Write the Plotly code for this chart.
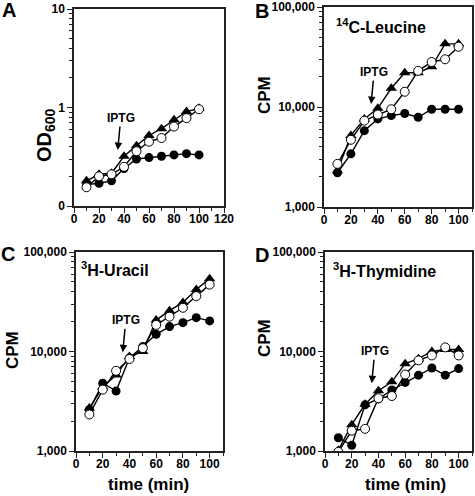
import math
import plotly.graph_objects as go

# ---------------- data ----------------
time_min = [10, 20, 30, 40, 50, 60, 70, 80, 90, 100]

# Panel A: OD600
A_triangle = [0.18, 0.21, 0.215, 0.32, 0.41, 0.52, 0.61, 0.75, 0.91, 0.98]
A_filled = [0.165, 0.17, 0.18, 0.24, 0.30, 0.31, 0.32, 0.33, 0.34, 0.33]
A_open = [0.155, 0.20, 0.21, 0.25, 0.36, 0.45, 0.49, 0.64, 0.78, 0.96]

# Panel B: 14C-Leucine CPM
B_triangle = [2300, 5200, 7600, 9700, 15400, 22000, 22000, 25300, 42800, 42800]
B_filled = [2200, 3400, 5800, 7600, 8200, 8600, 7900, 9500, 9500, 9500]
B_open = [2700, 4700, 7300, 8400, 9500, 14200, 23000, 28200, 30000, 40000]

# Panel C: 3H-Uracil CPM
C_triangle = [2700, 4400, 5800, 8900, 10000, 20700, 25700, 31100, 42000, 54000]
C_filled = [2600, 4800, 4000, 8600, 11200, 14900, 17800, 19500, 21900, 20300]
C_open = [2330, 4140, 6400, 8400, 10800, 18500, 22400, 27500, 36000, 47000]

# Panel D: 3H-Thymidine CPM
D_triangle = [1020, 1840, 2950, 4040, 4960, 7540, 8460, 10000, 10470, 10470]
D_filled = [1360, 1140, 2910, 3340, 4100, 4890, 5780, 6830, 5780, 6730]
D_open = [980, 1600, 1670, 3390, 3570, 5870, 8140, 9130, 11000, 9130]

iptg_time = 35
iptg_tip = {"A": 0.37, "B": 10700, "C": 9800, "D": 4800}

A_yticks = [0.1, 1, 10]
A_yticktext = ["0", "1", "10"]
cpm_yticks = [1000, 10000, 100000]
cpm_yticktext = ["1,000", "10,000", "100,000"]
xticks_A = [0, 20, 40, 60, 80, 100, 120]
xticks_other = [0, 20, 40, 60, 80, 100]

# ---------------- styling ----------------
FONT = "Liberation Sans, Arial, Helvetica, sans-serif"
LINE = "#222222"
W, H = 475, 496

fig = go.Figure()

panels = [
    ("A", "x", "y", A_triangle, A_filled, A_open),
    ("B", "x2", "y2", B_triangle, B_filled, B_open),
    ("C", "x3", "y3", C_triangle, C_filled, C_open),
    ("D", "x4", "y4", D_triangle, D_filled, D_open),
]

for name, xa, ya, tri, fil, opn in panels:
    fig.add_trace(go.Scatter(x=time_min, y=tri, xaxis=xa, yaxis=ya, mode="lines+markers",
                             line=dict(color="black", width=1.4),
                             marker=dict(symbol="triangle-up", size=10, color="black"),
                             showlegend=False))
    fig.add_trace(go.Scatter(x=time_min, y=fil, xaxis=xa, yaxis=ya, mode="lines+markers",
                             line=dict(color="black", width=1.4),
                             marker=dict(symbol="circle", size=9, color="black"),
                             showlegend=False))
    fig.add_trace(go.Scatter(x=time_min, y=opn, xaxis=xa, yaxis=ya, mode="lines+markers",
                             line=dict(color="black", width=1.4),
                             marker=dict(symbol="circle", size=9, color="white",
                                         line=dict(color="black", width=1)),
                             showlegend=False))


def px_dom_x(a, b):
    return [a / W, b / W]


def px_dom_y(top, bottom):
    return [1 - bottom / H, 1 - top / H]


tickfont = dict(family=FONT, size=12, color="black", weight="bold")


def xaxis(dom, rng, anchor, tv, minor_vals):
    return dict(domain=dom, range=rng, anchor=anchor, showline=True, mirror=True,
                automargin=False, ticklabelstandoff=-4,
                linecolor=LINE, linewidth=1.5, ticks="outside", ticklen=5, tickwidth=1.3,
                tickcolor=LINE, tickvals=tv, ticktext=[f"<b>{v}</b>" for v in tv],
                tickfont=tickfont, showgrid=False, zeroline=False,
                minor=dict(tickvals=minor_vals, ticks="outside", ticklen=3, tickwidth=1.2,
                           tickcolor=LINE, showgrid=False))


def yaxis_log(dom, rng, anchor, tv, tt):
    decades = range(int(rng[0]), int(rng[1]))
    minor_vals = [m * 10 ** d for d in decades for m in range(2, 10)]
    return dict(domain=dom, type="log", range=rng, anchor=anchor, showline=True, mirror=True,
                automargin=False,
                linecolor=LINE, linewidth=1.5, ticks="outside", ticklen=5, tickwidth=1.3,
                tickcolor=LINE, tickvals=tv, ticktext=[f"<b>{t}</b>" for t in tt],
                tickfont=tickfont, showgrid=False, zeroline=False,
                minor=dict(tickvals=minor_vals, ticks="outside", ticklen=3, tickwidth=1.2,
                           tickcolor=LINE, showgrid=False))


minor_x = [10, 30, 50, 70, 90, 110]

fig.update_layout(
    template="none",
    width=W, height=H, autosize=False,
    margin=dict(l=0, r=0, t=0, b=0, pad=0),
    paper_bgcolor="white", plot_bgcolor="white",
    font=dict(family=FONT, color="black"),
    xaxis=xaxis(px_dom_x(74, 224), [0, 120], "y", xticks_A, minor_x),
    yaxis=yaxis_log(px_dom_y(9, 206), [-1, 1], "x", A_yticks, A_yticktext),
    xaxis2=xaxis(px_dom_x(324, 472), [0, 110], "y2", xticks_other, minor_x),
    yaxis2=yaxis_log(px_dom_y(7, 207), [3, 5], "x2", cpm_yticks, cpm_yticktext),
    xaxis3=xaxis(px_dom_x(76, 223), [0, 110], "y3", xticks_other, minor_x),
    yaxis3=yaxis_log(px_dom_y(252, 451), [3, 5], "x3", cpm_yticks, cpm_yticktext),
    xaxis4=xaxis(px_dom_x(325, 472), [0, 110], "y4", xticks_other, minor_x),
    yaxis4=yaxis_log(px_dom_y(252, 451), [3, 5], "x4", cpm_yticks, cpm_yticktext),
)

ann = []
# IPTG arrows
for name, xa, ya in [("A", "x", "y"), ("B", "x2", "y2"), ("C", "x3", "y3"), ("D", "x4", "y4")]:
    ann.append(dict(x=iptg_time, y=math.log10(iptg_tip[name]), xref=xa, yref=ya,
                    text="<b>IPTG</b>", showarrow=True, arrowhead=2, arrowsize=1,
                    arrowwidth=1.5, arrowcolor="black", ax=3, ay=-32, standoff=0,
                    font=dict(family=FONT, size=12, color="black")))


def pa(text, x, y, size, angle=0, xanchor="center"):
    return dict(text=text, x=x / W, y=1 - y / H, xref="paper", yref="paper",
                showarrow=False, textangle=angle, xanchor=xanchor, yanchor="middle",
                font=dict(family=FONT, size=size, color="black"))


# panel letters
ann.append(pa("<b>A</b>", 9, 10, 20))
ann.append(pa("<b>B</b>", 262, 11, 20))
ann.append(pa("<b>C</b>", 8, 254, 20))
ann.append(pa("<b>D</b>", 262, 255, 20))

# axis titles
ann.append(pa("<b>OD<sub>600</sub></b>", 45, 135, 20, angle=-90))
ann.append(pa("<b>CPM</b>", 264, 95, 17, angle=-90))
ann.append(pa("<b>CPM</b>", 12, 350, 17, angle=-90))
ann.append(pa("<b>CPM</b>", 264, 338, 17, angle=-90))
ann.append(pa("<b>time (min)</b>", 148, 484, 17))
ann.append(pa("<b>time (min)</b>", 405, 484, 17))

# isotope labels
ann.append(pa("<b><sup>14</sup>C-Leucine</b>", 334, 26, 16, xanchor="left"))
ann.append(pa("<b><sup>3</sup>H-Uracil</b>", 79, 269, 16, xanchor="left"))
ann.append(pa("<b><sup>3</sup>H-Thymidine</b>", 331, 270, 16, xanchor="left"))

fig.update_layout(annotations=ann)

fig.write_html(
    "out.html",
    config={"displayModeBar": False},
    post_script="document.body.style.margin='0';document.body.style.padding='0';",
)
